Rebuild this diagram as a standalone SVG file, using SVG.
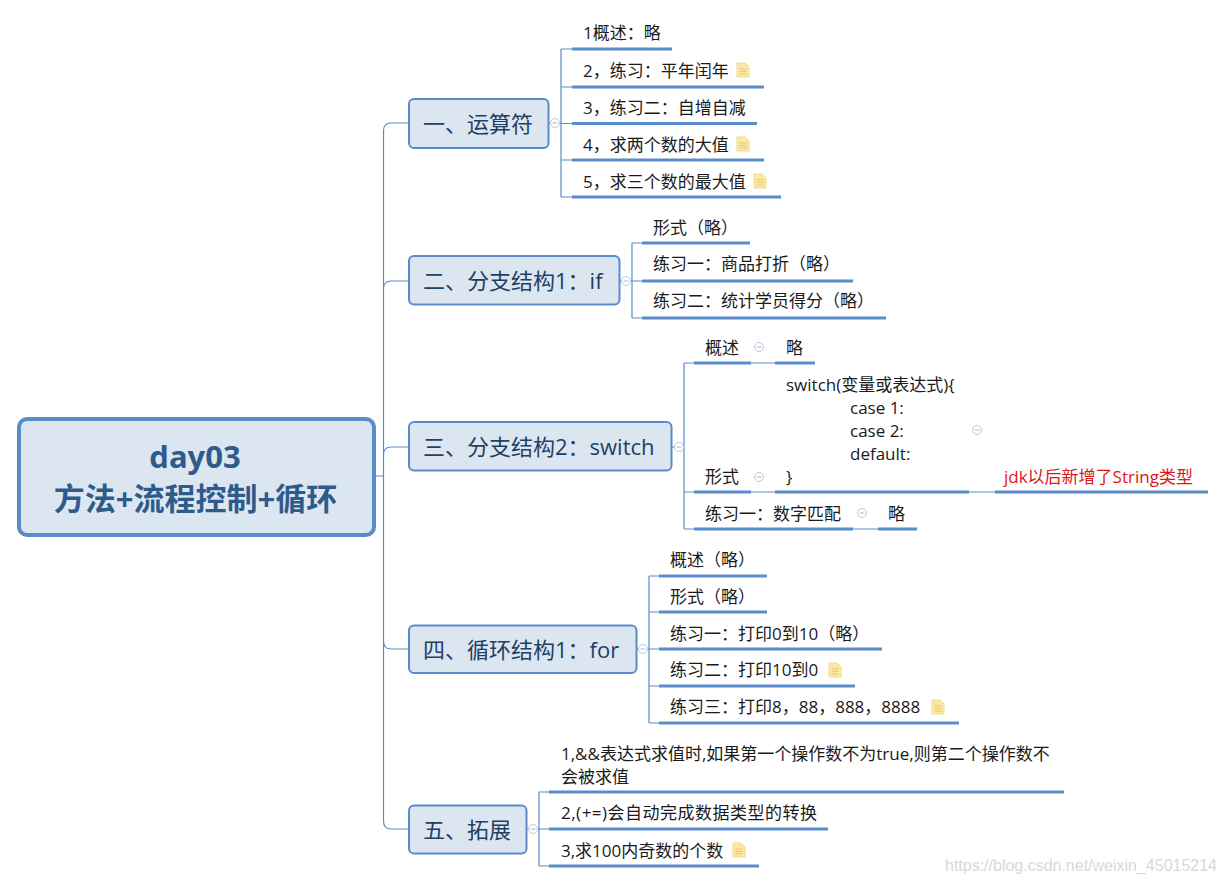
<svg xmlns="http://www.w3.org/2000/svg" width="1226" height="883" viewBox="0 0 1226 883">
<style>
text{font-family:"Open Sans","Noto Sans CJK SC",sans-serif}
.t{font-size:17px;fill:#1a1a1a;transform:translateY(1px)}
.b{font-size:22px;fill:#1f3f63}
.r{font-size:31px;font-weight:700;fill:#2e5a8c;text-anchor:middle}
.box{fill:#dce6f1;stroke:#5a8ccb;stroke-width:2}
.th{fill:none;stroke:#5a8ccb;stroke-width:3}
.tn{fill:none;stroke:#5a8ccb;stroke-width:1.2}
.c{fill:#fff;stroke:#b9cbdc;stroke-width:1}
.m{stroke:#a9bccf;stroke-width:1}
.d{fill:#fbe7a6;stroke:#f3d98f;stroke-width:1}
</style>
<defs>
<g id="col"><circle r="4.5" class="c"/><path d="M-2.5 0H2.5" class="m"/></g>
<g id="doc"><path d="M-6 -7H2L6 -3V7H-6Z" class="d"/><path d="M-3.5 -1H3.5M-3.5 1.5H3.5M-3.5 4H3.5" stroke="#e8c66f" stroke-width="1"/></g>
</defs>
<rect width="1226" height="883" fill="#fff"/>
<g id="connectors">
<path class="tn" d="M374 476H383.5M408 123H391Q383.5 123 383.5 131V821Q383.5 829 391 829H408M408 281H391Q383.5 281 383.5 289M408 447H391Q383.5 447 383.5 455M408 649H391Q383.5 649 383.5 641"/>
<path class="tn" d="M549 123H561M561 49V197M561 49H572M561 87H572M561 123.500H572M561 160H572M561 197H572"/>
<path class="tn" d="M620 281H632M632 243V318M632 243H642M632 281H642M632 318H642"/>
<path class="tn" d="M672 447H684M684 363V529M684 363H694M684 492H694M684 529H694M751 363H775M751 492H775M969 492H995M853 529H878"/>
<path class="tn" d="M637 649H649M649 576V723M649 576H659M649 612H659M649 649H659M649 686H659M649 723H659"/>
<path class="tn" d="M527 829H539M539 792V866M539 792H549M539 829H549M539 866H549"/>
<path class="th" d="M572 49H672M572 87H764M572 123.500H757M572 160H764M572 197H781"/>
<path class="th" d="M642 243H750M642 281H853M642 318H886"/>
<path class="th" d="M694 363H751M775 363H815M694 492H751M775 492H969M995 492H1208M694 529H853M878 529H917"/>
<path class="th" d="M659 576H767M659 612H767M659 649H882M659 686H855M659 723H959"/>
<path class="th" d="M549 792H1064M549 829H828M549 866H759"/>
</g>
<g id="root"><rect x="19" y="419" width="355" height="116" rx="8" fill="#dce6f1" stroke="#5a8ccb" stroke-width="4"/>
<text class="r" x="195" y="468">day03</text><text class="r" x="195.500" y="510">方法+流程控制+循环</text></g>
<g id="n1"><rect class="box" x="409" y="99" width="139.500" height="49" rx="5"/><text class="b" x="423" y="132">一、运算符</text><use href="#col" x="555" y="123"/></g>
<g id="n2"><rect class="box" x="409" y="256" width="210.500" height="48.500" rx="5"/><text class="b" x="423" y="289">二、分支结构1：if</text><use href="#col" x="626" y="281"/></g>
<g id="n3"><rect class="box" x="409" y="422" width="262.500" height="48.500" rx="5"/><text class="b" x="423" y="455">三、分支结构2：switch</text><use href="#col" x="679" y="447"/></g>
<g id="n4"><rect class="box" x="409" y="625.500" width="227.500" height="47.500" rx="5"/><text class="b" x="423" y="658">四、循环结构1：for</text><use href="#col" x="643" y="649"/></g>
<g id="n5"><rect class="box" x="409" y="805.500" width="117.500" height="48" rx="5"/><text class="b" x="423" y="838">五、拓展</text><use href="#col" x="533" y="829"/></g>
<g id="l1"><text class="t" x="583" y="38">1概述：略</text></g>
<g id="l2"><text class="t" x="583" y="76">2，练习：平年闰年</text><use href="#doc" x="743" y="70"/></g>
<g id="l3"><text class="t" x="583" y="113">3，练习二：自增自减</text></g>
<g id="l4"><text class="t" x="583" y="150">4，求两个数的大值</text><use href="#doc" x="743" y="144"/></g>
<g id="l5"><text class="t" x="583" y="187">5，求三个数的最大值</text><use href="#doc" x="760" y="181"/></g>
<g id="l6"><text class="t" x="653" y="233">形式（略）</text></g>
<g id="l7"><text class="t" x="653" y="269">练习一：商品打折（略）</text></g>
<g id="l8"><text class="t" x="653" y="306">练习二：统计学员得分（略）</text></g>
<g id="l9"><text class="t" x="705" y="353">概述</text><use href="#col" x="759" y="347"/></g>
<g id="l10"><text class="t" x="786" y="353">略</text></g>
<g id="l11"><text class="t" x="705" y="482">形式</text><use href="#col" x="759" y="477"/></g>
<g id="l12"><text class="t" x="786" y="390">switch(变量或表达式){</text><text class="t" x="850" y="413">case 1:</text><text class="t" x="850" y="436">case 2:</text><text class="t" x="850" y="459">default:</text><text class="t" x="786" y="482">}</text><use href="#col" x="977" y="430"/></g>
<g id="l13"><text class="t" x="1004" y="482" style="fill:#e0141a">jdk以后新增了String类型</text></g>
<g id="l14"><text class="t" x="705" y="519">练习一：数字匹配</text><use href="#col" x="862" y="513"/></g>
<g id="l15"><text class="t" x="888" y="519">略</text></g>
<g id="l16"><text class="t" x="670" y="565">概述（略）</text></g>
<g id="l17"><text class="t" x="670" y="602">形式（略）</text></g>
<g id="l18"><text class="t" x="670" y="639">练习一：打印0到10（略）</text></g>
<g id="l19"><text class="t" x="670" y="675">练习二：打印10到0</text><use href="#doc" x="835" y="670"/></g>
<g id="l20"><text class="t" x="670" y="712">练习三：打印8，88，888，8888</text><use href="#doc" x="938" y="707"/></g>
<g id="l21"><text class="t" x="561" y="759">1,&amp;&amp;表达式求值时,如果第一个操作数不为true,则第二个操作数不</text><text class="t" x="561" y="782">会被求值</text></g>
<g id="l22"><text class="t" x="561" y="818" textLength="256" lengthAdjust="spacing">2,(+=)会自动完成数据类型的转换</text></g>
<g id="l23"><text class="t" x="561" y="856">3,求100内奇数的个数</text><use href="#doc" x="739" y="850"/></g>
<text x="945" y="871" font-size="16" style="font-family:'Liberation Sans',sans-serif;fill:#d8d8d8" textLength="272" lengthAdjust="spacingAndGlyphs">https://blog.csdn.net/weixin_45015214</text>
</svg>
